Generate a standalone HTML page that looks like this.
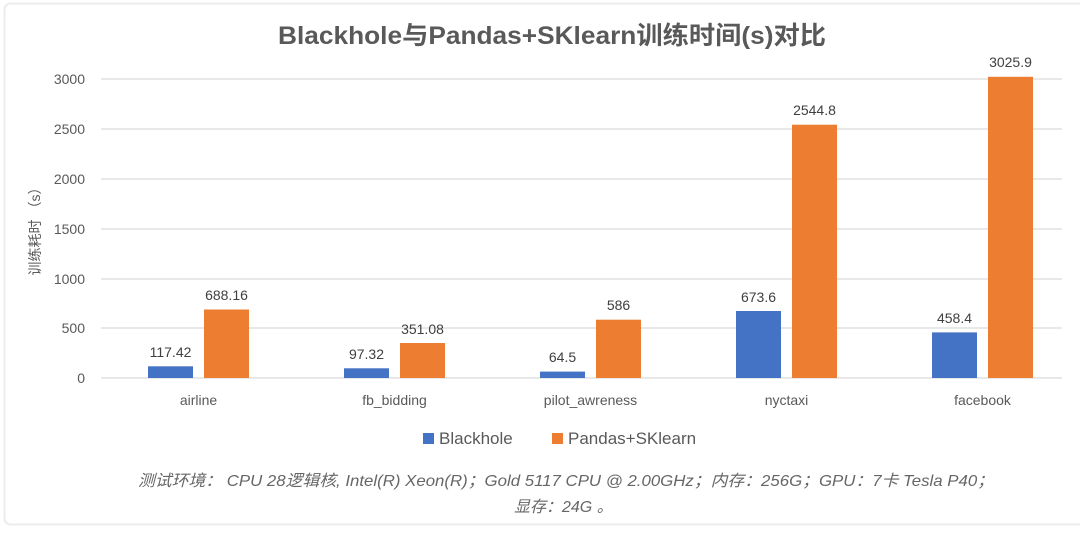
<!DOCTYPE html>
<html><head><meta charset="utf-8"><style>
body{margin:0;background:#fff;}
svg text{font-family:"Liberation Sans","Noto Sans CJK SC",sans-serif;}
</style></head><body>
<svg width="1080" height="529" xmlns="http://www.w3.org/2000/svg">
<rect x="0" y="0" width="1080" height="529" fill="#fff"/>
<rect x="4.5" y="3.5" width="1080" height="521" rx="6" fill="none" stroke="#ececec" stroke-width="2"/>
<text x="552" y="44" font-size="25" font-weight="bold" fill="#595959" text-anchor="middle" textLength="548" lengthAdjust="spacingAndGlyphs">Blackhole与Pandas+SKlearn训练时间(s)对比</text>
<g stroke="#d9d9d9" stroke-width="1.2">
<line x1="101" x2="1062" y1="79" y2="79"/><line x1="101" x2="1062" y1="129" y2="129"/>
<line x1="101" x2="1062" y1="179" y2="179"/><line x1="101" x2="1062" y1="229" y2="229"/>
<line x1="101" x2="1062" y1="279" y2="279"/><line x1="101" x2="1062" y1="328" y2="328"/>
<line x1="101" x2="1062" y1="378" y2="378"/>
</g>
<g font-size="14" fill="#595959" text-anchor="end">
<text x="85" y="84">3000</text><text x="85" y="134">2500</text><text x="85" y="184">2000</text>
<text x="85" y="234">1500</text><text x="85" y="284">1000</text><text x="85" y="333">500</text><text x="85" y="383">0</text>
</g>
<text transform="translate(40,228) rotate(-90)" font-size="14" fill="#595959" text-anchor="middle">训练耗时 （s）</text>
<g fill="#4472c4">
<rect x="148" y="366.3" width="45" height="11.7"/>
<rect x="344" y="368.3" width="45" height="9.7"/>
<rect x="540" y="371.6" width="45" height="6.4"/>
<rect x="736" y="311" width="45" height="67"/>
<rect x="932" y="332.4" width="45" height="45.6"/>
</g>
<g fill="#ed7d31">
<rect x="204" y="309.5" width="45" height="68.5"/>
<rect x="400" y="343" width="45" height="35"/>
<rect x="596" y="319.7" width="45" height="58.3"/>
<rect x="792" y="124.7" width="45" height="253.3"/>
<rect x="988" y="76.8" width="45" height="301.2"/>
</g>
<g font-size="14" fill="#404040" text-anchor="middle">
<text x="170.5" y="357">117.42</text><text x="226.5" y="300">688.16</text>
<text x="366.5" y="359">97.32</text><text x="422.5" y="334">351.08</text>
<text x="562.5" y="362">64.5</text><text x="618.5" y="310">586</text>
<text x="758.5" y="302">673.6</text><text x="814.5" y="115">2544.8</text>
<text x="954.5" y="323">458.4</text><text x="1010.5" y="67">3025.9</text>
</g>
<g font-size="14" fill="#595959" text-anchor="middle">
<text x="198.5" y="405">airline</text><text x="394.5" y="405">fb_bidding</text>
<text x="590.5" y="405">pilot_awreness</text><text x="786.5" y="405">nyctaxi</text><text x="982.5" y="405">facebook</text>
</g>
<rect x="423" y="433" width="11" height="11" fill="#4472c4"/>
<text x="439" y="444" font-size="17" fill="#595959">Blackhole</text>
<rect x="552" y="433" width="11" height="11" fill="#ed7d31"/>
<text x="568" y="444" font-size="17" fill="#595959">Pandas+SKlearn</text>
<g font-size="16" fill="#666" font-style="italic">
<text x="138" y="486" textLength="856" lengthAdjust="spacingAndGlyphs">测试环境： CPU 28逻辑核,  Intel(R) Xeon(R)；Gold 5117 CPU @ 2.00GHz；内存：256G；GPU：7卡 Tesla P40；</text>
<text x="514" y="512">显存：24G 。</text>
</g>
</svg>
</body></html>
